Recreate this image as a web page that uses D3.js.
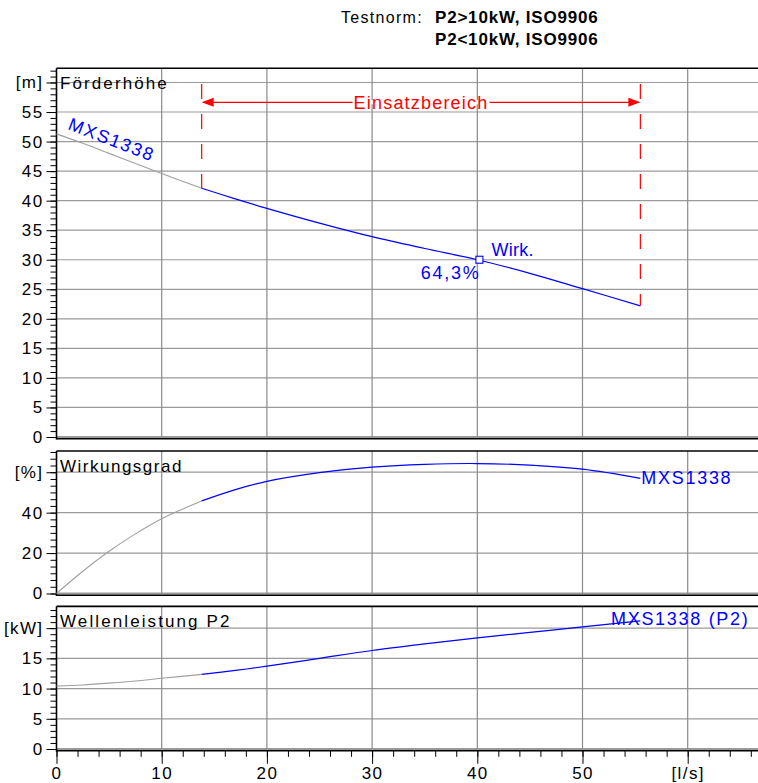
<!DOCTYPE html>
<html>
<head>
<meta charset="utf-8">
<script src="https://cdn.jsdelivr.net/npm/d3@7"></script>
<style>
    body { margin: 0; background: #fff; }
    svg { display: block; font-family: "Liberation Sans", Arial, sans-serif; }
    .lbl { font-size: 17px; letter-spacing: 1.5px; }
    .blue { font-size: 18px; letter-spacing: 1.7px; fill: #0000ff; }
    .axis text { font-size: 17px; letter-spacing: 1.4px; fill: #000; }
    .axis line, .axis path { stroke: #000; }
</style>
</head>
<body>
<svg id="vis" width="758" height="783"></svg>
<script>
/**
 * Pump curve sheet: head, efficiency and shaft power over flow
 */

const svg = d3.select('#vis');
const WIDTH = 758;
const HEIGHT = 783;

// flow [l/s]
const flow = [0, 2.5, 5, 7.5, 10, 13.8, 17, 20, 25, 30, 35, 40, 45, 50, 55.5];
// Förderhöhe [m]
const head = [51.3, 49.7, 48.0, 46.3, 44.6, 42.1, 40.3, 38.7, 36.2, 33.9, 31.9, 30.0, 27.7, 25.1, 22.2];
// Wirkungsgrad [%]
const efficiency = [0, 11.0, 20.9, 29.5, 37.0, 45.8, 51.4, 55.5, 59.8, 62.5, 63.9, 64.3, 63.5, 61.5, 57.0];
// Wellenleistung P2 [kW]
const power = [10.4, 10.6, 10.9, 11.25, 11.7, 12.35, 13.0, 13.7, 15.0, 16.3, 17.4, 18.4, 19.3, 20.2, 21.2];

// Einsatzbereich [l/s]
const opRange = [13.8, 55.5];
const bestPoint = {q: 40.2, h: 30.0, label: "64,3%"};

const xTicks = [0, 10, 20, 30, 40, 50, 60];
const headTicks = [0, 5, 10, 15, 20, 25, 30, 35, 40, 45, 50, 55, 60];
const effTicks = [0, 20, 40, 60];
const powerTicks = [0, 5, 10, 15, 20];

const x = d3.scaleLinear().domain([0, 70]).range([56.5, 56.5 + 736.4]);

const panels = [
    {name: "Förderhöhe", unit: "[m]", values: head, ticks: headTicks, minor: 1, spacing: 2.1,
        y: d3.scaleLinear().domain([0, 62.4]).range([437, 68.3])},
    {name: "Wirkungsgrad", unit: "[%]", values: efficiency, ticks: effTicks, minor: 20 / 6, spacing: 1.5,
        y: d3.scaleLinear().domain([0, 70.5]).range([593.5, 451])},
    {name: "Wellenleistung P2", unit: "[kW]", values: power, ticks: powerTicks, minor: 1, spacing: 2.1,
        y: d3.scaleLinear().domain([0, 23.6]).range([749, 606.4])}
];

const points = function (values) {
    return flow.map(function (q, i) { return {q: q, v: values[i]}; });
};

// header
svg.append("text").attr("class", "lbl").attr("x", 423).attr("y", 23)
    .attr("text-anchor", "end").style("font-size", "16px").style("letter-spacing", "1.3px")
    .text("Testnorm:");
svg.append("text").attr("x", 435).attr("y", 23)
    .style("font-size", "17px").style("font-weight", "bold").style("letter-spacing", "0.8px")
    .text("P2>10kW, ISO9906");
svg.append("text").attr("x", 435).attr("y", 44.5)
    .style("font-size", "17px").style("font-weight", "bold").style("letter-spacing", "0.8px")
    .text("P2<10kW, ISO9906");

panels.forEach(function (p, idx) {
    var g = svg.append("g");
    var y = p.y;
    var y0 = y(0), yTop = y.range()[1];

    // horizontal grid
    g.selectAll(".hgrid").data(p.ticks).enter().append("line")
        .attr("x1", x(0)).attr("x2", WIDTH + 5)
        .attr("y1", function (d) { return y(d); })
        .attr("y2", function (d) { return y(d); })
        .attr("stroke", "#9a9a9a")
        .attr("stroke-width", function (d) { return d === 0 ? 2 : 1.2; });

    // vertical grid
    g.selectAll(".vgrid").data(xTicks.slice(1)).enter().append("line")
        .attr("x1", function (d) { return x(d); })
        .attr("x2", function (d) { return x(d); })
        .attr("y1", yTop).attr("y2", y0)
        .attr("stroke", "#8a8a8a").attr("stroke-width", 1.2);

    // frame
    g.append("line").attr("x1", x(0)).attr("x2", WIDTH + 5)
        .attr("y1", yTop).attr("y2", yTop)
        .attr("stroke", "#000").attr("stroke-width", 1.6);
    g.append("line").attr("x1", x(0)).attr("x2", WIDTH + 5)
        .attr("y1", y0 + 1.8).attr("y2", y0 + 1.8)
        .attr("stroke", "#000").attr("stroke-width", 1.4);

    // minor ticks
    var minorTicks = d3.range(0, y.domain()[1], p.minor);
    g.append("g").attr("class", "axis")
        .attr("transform", "translate(" + x(0) + ",0)")
        .call(d3.axisLeft(y).tickValues(minorTicks).tickSize(6).tickSizeOuter(0).tickFormat(""))
        .call(function (a) { a.select(".domain").remove(); });

    // major ticks + labels
    var axis = g.append("g").attr("class", "axis")
        .attr("transform", "translate(" + x(0) + ",0)")
        .call(d3.axisLeft(y).tickValues(p.ticks).tickSize(10).tickSizeOuter(0).tickPadding(3)
            .tickFormat(function (d, i) { return i === p.ticks.length - 1 ? p.unit : d; }));
    axis.select(".domain").remove();
    axis.selectAll("text").style("font-family", "inherit");

    g.append("line").attr("x1", x(0)).attr("x2", x(0))
        .attr("y1", yTop).attr("y2", y0 + 2.5)
        .attr("stroke", "#000").attr("stroke-width", 1.6);

    // panel title
    g.append("text").attr("class", "lbl").attr("x", x(0) + 3.5).attr("y", yTop + 21)
        .style("letter-spacing", p.spacing + "px")
        .text(p.name);

    // curve, grey outside and blue inside the operating range
    var line = d3.line()
        .x(function (d) { return x(d.q); })
        .y(function (d) { return y(d.v); })
        .curve(d3.curveCatmullRom.alpha(0.5));
    var pts = points(p.values);
    g.append("path").datum(pts.filter(function (d) { return d.q <= opRange[0]; }))
        .attr("d", line).attr("fill", "none")
        .attr("stroke", "#a0a0a0").attr("stroke-width", 1.1);
    g.append("path").datum(pts.filter(function (d) { return d.q >= opRange[0]; }))
        .attr("d", line).attr("fill", "none")
        .attr("stroke", "#0000ff").attr("stroke-width", 1.2);
});

// x axis at the bottom
var yBottom = panels[2].y(0) + 1.8;
svg.append("g").attr("class", "axis")
    .attr("transform", "translate(0," + yBottom + ")")
    .call(d3.axisBottom(x).tickValues(d3.range(0, 70, 2)).tickSize(6).tickSizeOuter(0).tickFormat(""))
    .call(function (a) { a.select(".domain").remove(); });
svg.append("g").attr("class", "axis")
    .attr("transform", "translate(0," + yBottom + ")")
    .call(d3.axisBottom(x).tickValues(xTicks).tickSize(13).tickSizeOuter(0).tickPadding(3)
        .tickFormat(function (d) { return d === 60 ? "[l/s]" : d; }))
    .call(function (a) { a.select(".domain").remove(); });

// Einsatzbereich marker
var yH = panels[0].y;
var xa = x(opRange[0]), xb = x(opRange[1]);
var arrowY = 102.3;
var ends = [{q: opRange[0], v: head[flow.indexOf(opRange[0])]},
            {q: opRange[1], v: head[flow.indexOf(opRange[1])]}];
svg.selectAll(".oprange").data(ends).enter().append("line")
    .attr("x1", function (d) { return x(d.q); })
    .attr("x2", function (d) { return x(d.q); })
    .attr("y1", 84).attr("y2", function (d) { return yH(d.v); })
    .attr("stroke", "#ff0000").attr("stroke-width", 1.2)
    .attr("stroke-dasharray", "15,15");
svg.append("line").attr("x1", xa + 10).attr("x2", xb - 10)
    .attr("y1", arrowY).attr("y2", arrowY)
    .attr("stroke", "#ff0000").attr("stroke-width", 1.2);
svg.append("path")
    .attr("d", "M" + xa + "," + arrowY + "l12,-4.5v9z")
    .attr("fill", "#ff0000");
svg.append("path")
    .attr("d", "M" + xb + "," + arrowY + "l-12,-4.5v9z")
    .attr("fill", "#ff0000");
var opText = svg.append("text").attr("class", "lbl")
    .attr("x", (xa + xb) / 2).attr("y", arrowY + 6.5)
    .attr("text-anchor", "middle").attr("fill", "#ff0000")
    .style("font-size", "18px").style("letter-spacing", "1.2px")
    .text("Einsatzbereich");
var bb = opText.node().getBBox();
svg.insert("rect", function () { return opText.node(); })
    .attr("x", bb.x - 1).attr("y", arrowY - 2).attr("width", bb.width + 2).attr("height", 4)
    .attr("fill", "#fff");

// best efficiency point
svg.append("rect")
    .attr("x", x(bestPoint.q) - 3.5).attr("y", yH(bestPoint.h) - 3.5)
    .attr("width", 7).attr("height", 7)
    .attr("fill", "#fff").attr("stroke", "#0000ff").attr("stroke-width", 1.1);
svg.append("text").attr("class", "blue")
    .attr("x", x(bestPoint.q) + 12).attr("y", yH(bestPoint.h) - 3.5)
    .style("letter-spacing", "0.3px")
    .text("Wirk.");
svg.append("text").attr("class", "blue")
    .attr("x", x(bestPoint.q) + 1).attr("y", yH(bestPoint.h) + 19)
    .attr("text-anchor", "end")
    .text(bestPoint.label);

// curve names
svg.append("text").attr("class", "blue")
    .attr("transform", "translate(67,129) rotate(21)")
    .text("MXS1338");
svg.append("text").attr("class", "blue")
    .attr("x", x(opRange[1]) + 1).attr("y", panels[1].y(efficiency[efficiency.length - 1]) + 6)
    .text("MXS1338");
svg.append("text").attr("class", "blue")
    .attr("x", 611).attr("y", 625)
    .text("MXS1338 (P2)");
</script>
</body>
</html>
